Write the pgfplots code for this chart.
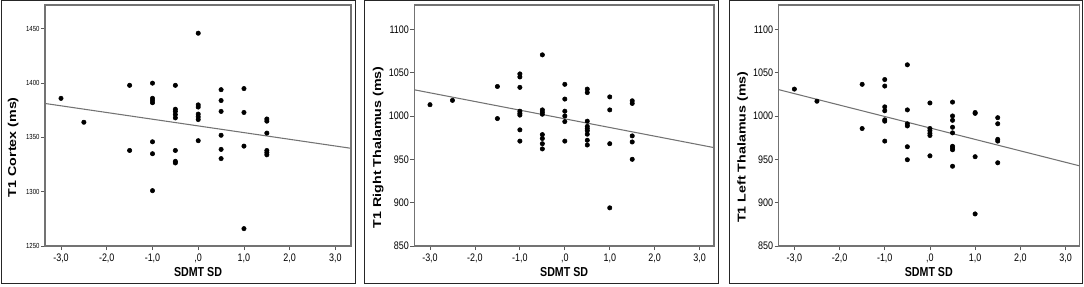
\documentclass[border=0pt]{standalone}
\usepackage{graphicx}
\usepackage{pgfplots}
\pgfplotsset{compat=1.18}
\usepackage{fontspec}
\setmainfont{Liberation Sans}
\newfontfamily\nfont[FakeStretch=0.82]{Liberation Sans}

\pgfplotsset{
  spss/.style={
    scale only axis,
    height=180.75pt,
    xmin=-3.35,
    axis line style={black!55, line width=0.8pt},
    tick style={black!65, line width=0.6pt},
    tick align=outside,
    major tick length=3pt,
    tick pos=left,
    xtick={-3,-2,-1,0,1,2,3},
    xticklabels={{-3,0},{-2,0},{-1,0},{,0},{1,0},{2,0},{3,0}},
    xticklabel style={font=\nfont\fontsize{8.2}{9}\selectfont, anchor=north, inner sep=0pt, yshift=-2.7pt},
    yticklabel style={font=\nfont\fontsize{8.2}{9}\selectfont, anchor=east, inner sep=0pt, xshift=-0.9pt},
    xlabel={SDMT SD},
    xlabel style={font=\nfont\bfseries\fontsize{9.75}{10}\selectfont, at={(axis description cs:0.5,-0.1066)}, anchor=center},
    ylabel style={font=\bfseries\fontsize{10.7}{12}\selectfont, anchor=center},
    clip=true,
  },
  dots/.style={only marks, mark=*, mark size=1.65pt, mark options={fill=black, draw=black}},
  fit/.style={no marks, draw=black!55, line width=0.8pt},
}

\begin{document}
\begin{tikzpicture}[x=0.75pt,y=0.75pt]
\path (0,0) rectangle (1084,286);
\draw[black!85, line width=0.75pt] (1,285) rectangle (355,2.5);
\draw[black!85, line width=0.75pt] (364.5,285) rectangle (718.5,2.5);
\draw[black!85, line width=0.75pt] (729.5,285) rectangle (1082.5,2.5);

% Panel 1
\begin{axis}[spss, at={(33.75pt,30pt)}, anchor=south west, width=229.5pt,
  xmax=3.34, ymin=1250, ymax=1472,
  ytick={1250,1300,1350,1400,1450},
  yticklabels={1250,1300,1350,1400,1450},
  yticklabel style={font=\nfont\fontsize{5.5}{6}\selectfont},
  ylabel={\scalebox{1}[0.8]{T1 Cortex (ms)}},
  ylabel style={at={(axis description cs:-0.1036,0.41)}},
]
\addplot[dots] coordinates {
(-3,1386)(-2.5,1364)
(-1.5,1398)(-1.5,1338)
(-1,1400)(-1,1386)(-1,1384)(-1,1382)(-1,1346)(-1,1335)(-1,1301)
(-0.5,1398)(-0.5,1376)(-0.5,1374)(-0.5,1371)(-0.5,1368)(-0.5,1338)(-0.5,1328)(-0.5,1326.5)
(0,1446)(0,1380)(0,1378)(0,1371.5)(0,1369)(0,1366.5)(0,1347)
(0.5,1394)(0.5,1384)(0.5,1374)(0.5,1352)(0.5,1339)(0.5,1330.5)
(1,1395)(1,1373)(1,1342)(1,1266)
(1.5,1367)(1.5,1365)(1.5,1354)(1.5,1338)(1.5,1336)(1.5,1334)
};
\addplot[fit] coordinates {(-3.35,1381.3)(3.34,1340.0)};
\end{axis}

% Panel 2
\begin{axis}[spss, at={(310.7pt,30pt)}, anchor=south west, width=224.8pt,
  xmax=3.32, ymin=850, ymax=1128,
  ytick={850,900,950,1000,1050,1100},
  yticklabels={850,900,950,1000,1050,1100},
  ylabel={\scalebox{1}[0.8]{T1 Right Thalamus (ms)}},
  ylabel style={at={(axis description cs:-0.120,0.41)}},
]
\addplot[dots] coordinates {
(-3,1013)(-2.5,1018)
(-1.5,1034)(-1.5,997)
(-1,1048.5)(-1,1045)(-1,1033)(-1,1005.5)(-1,1003)(-1,1001)(-1,984)(-1,971)
(-0.5,1070.5)(-0.5,1007)(-0.5,1004.5)(-0.5,1002)(-0.5,978.5)(-0.5,974)(-0.5,968)(-0.5,962)
(0,1036.5)(0,1019.5)(0,1005.5)(0,1000)(0,993.5)(0,971)
(0.5,1031)(0.5,1027)(0.5,994)(0.5,988)(0.5,985.5)(0.5,983)(0.5,979)(0.5,972)(0.5,966.5)
(1,1022)(1,1007)(1,968)(1,894)
(1.5,1017.5)(1.5,1014.5)(1.5,977)(1.5,970)(1.5,950)
};
\addplot[fit] coordinates {(-3.35,1030.2)(3.32,963.5)};
\end{axis}

% Panel 3
\begin{axis}[spss, at={(583.9pt,30pt)}, anchor=south west, width=225.4pt,
  xmax=3.30, ymin=850, ymax=1128,
  ytick={850,900,950,1000,1050,1100},
  yticklabels={850,900,950,1000,1050,1100},
  ylabel={\scalebox{1}[0.8]{T1 Left Thalamus (ms)}},
  ylabel style={at={(axis description cs:-0.119,0.41)}},
]
\addplot[dots] coordinates {
(-3,1031)(-2.5,1017)
(-1.5,1036.5)(-1.5,985.5)
(-1,1042)(-1,1034.5)(-1,1010.5)(-1,1006)(-1,995.5)(-1,994)(-1,971)
(-0.5,1059)(-0.5,1007)(-0.5,991)(-0.5,988.5)(-0.5,964.5)(-0.5,949.5)
(0,1015)(0,985.5)(0,983)(0,980)(0,977.5)(0,954)
(0.5,1016)(0.5,1000)(0.5,995)(0.5,987)(0.5,980.5)(0.5,965)(0.5,963)(0.5,961)(0.5,942)
(1,1004)(1,1003)(1,953)(1,887)
(1.5,998)(1.5,991)(1.5,973)(1.5,971)(1.5,946)
};
\addplot[fit] coordinates {(-3.35,1030.4)(3.30,942.6)};
\end{axis}
\end{tikzpicture}
\end{document}
